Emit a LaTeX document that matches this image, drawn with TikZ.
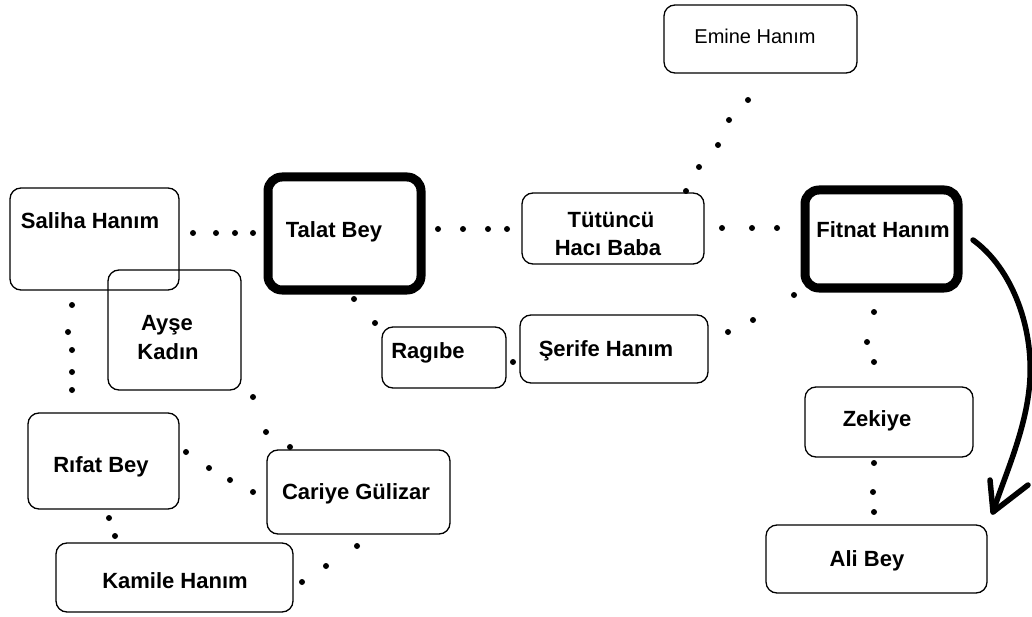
\documentclass[tikz,border=0pt]{standalone}
\usepackage{fontspec}
\setmainfont{Liberation Sans}
\begin{document}
\begin{tikzpicture}[x=1pt,y=-1pt,
  box/.style={draw, rounded corners=11pt, line width=1.3pt, inner sep=0pt},
  thickbox/.style={draw, rounded corners=14pt, line width=9pt, inner sep=0pt},
  lbl/.style={font=\fontsize{22}{26}\selectfont\bfseries, inner sep=0pt, anchor=base},
  lblreg/.style={font=\fontsize{20}{24}\selectfont, inner sep=0pt, anchor=base},
  dotc/.style={fill=black},
  arrowline/.style={line width=5.5pt, line cap=round, line join=round}
]
\useasboundingbox (0,0) rectangle (1032,617);
\fill[white] (0,0) rectangle (1032,617);

% boxes
\node[box, minimum width=169pt, minimum height=102pt] (saliha) at (94.5,239) {};
\node[box, minimum width=133pt, minimum height=120pt] (ayse) at (174.5,330) {};
\node[thickbox, minimum width=153pt, minimum height=113pt] (talat) at (344.5,233.5) {};
\node[box, minimum width=124pt, minimum height=61pt] (ragibe) at (444,357.5) {};
\node[box, minimum width=188pt, minimum height=68pt] (serife) at (614,349) {};
\node[box, minimum width=182pt, minimum height=71pt] (tutuncu) at (613,228.5) {};
\node[box, minimum width=193pt, minimum height=68pt] (emine) at (760.5,39) {};
\node[thickbox, minimum width=153pt, minimum height=98pt] (fitnat) at (881.5,239) {};
\node[box, minimum width=168pt, minimum height=70pt] (zekiye) at (889,422) {};
\node[box, minimum width=221pt, minimum height=68pt] (alibey) at (876.5,559) {};
\node[box, minimum width=151pt, minimum height=96pt] (rifat) at (103.5,461) {};
\node[box, minimum width=183pt, minimum height=84pt] (cariye) at (358.5,492) {};
\node[box, minimum width=237pt, minimum height=69pt] (kamile) at (174.5,577.5) {};

% labels
\node[lbl] (tsaliha) at (90,229) {Saliha Hanım};
\node[lbl] (tayse) at (167,330) {Ayşe};
\node[lbl] (tkadin) at (168,359) {Kadın};
\node[lbl] (ttalat) at (334,238) {Talat Bey};
\node[lbl] (tragibe) at (428,358) {Ragıbe};
\node[lbl] (tserife) at (606,356) {Şerife Hanım};
\node[lbl] (ttutuncu) at (611,228) {Tütüncü};
\node[lbl] (thaci) at (608,256) {Hacı Baba};
\node[lblreg] (temine) at (755,44) {Emine Hanım};
\node[lbl] (tfitnat) at (883,238) {Fitnat Hanım};
\node[lbl] (tzekiye) at (877,426) {Zekiye};
\node[lbl] (tali) at (867,566) {Ali Bey};
\node[lbl] (trifat) at (101,472) {Rıfat Bey};
\node[lbl] (tcariye) at (356,499) {Cariye Gülizar};
\node[lbl] (tkamile) at (175,588) {Kamile Hanım};

% dotted connectors
\foreach \p in {(193,233),(216,233),(235,233),(253,233),
                (438,229),(463,229),(488,229),(507,229),
                (722,228),(752,228),(777,228),
                (686,191),(699,167),(718,145),(729,120),(748,100),
                (794,295),(753,320),(728,332),
                (354,299),(375,323),
                (513,362),
                (72,305),(68,332),(72,350),(72,372),(72,390),
                (253,397),(266,432),(290,447),
                (186,452),(209,468),(230,480),(253,492),
                (109,518),(115,536),
                (302,582),(326,566),(357,546),
                (874,312),(867,342),(874,362),
                (874,463),(873,492),(874,512)}
  \fill[dotc] \p circle (3pt);

% curved arrow
\coordinate (astart) at (973,240);
\coordinate (atip) at (993,512);
\draw[arrowline]
  (astart) .. controls (1012,268) and (1036,330) .. (1029,390)
  .. controls (1024,435) and (1003,480) .. (atip);
\draw[arrowline]
  (990,480) -- (atip) -- (1028,485);
\end{tikzpicture}
\end{document}
